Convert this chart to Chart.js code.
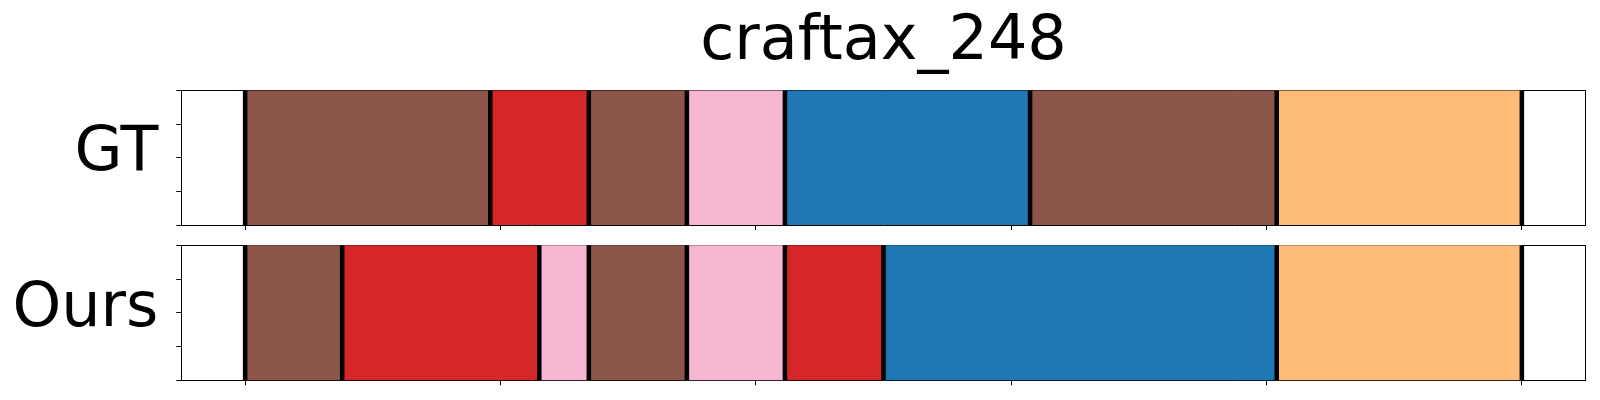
<!DOCTYPE html>
<html>
<head>
<meta charset="utf-8">
<title>craftax_248</title>
<script src="https://cdn.jsdelivr.net/npm/chart.js@4/dist/chart.umd.min.js"></script>
<style>
  html, body { margin: 0; padding: 0; background: #fff; }
  #wrap { position: relative; width: 1600px; height: 400px; }
  .panel { position: absolute; left: 0; width: 1600px; }
  #gtBox { top: 0; height: 235px; }
  #oursBox { top: 235px; height: 165px; }
</style>
</head>
<body>
<div id="wrap">
  <div class="panel" id="gtBox"><canvas id="gtChart"></canvas></div>
  <div class="panel" id="oursBox"><canvas id="oursChart"></canvas></div>
</div>
<script>
// ---- data ----
var chartTitle = "craftax_248";
var rowNames = ["GT", "Ours"];

// segment boundaries (frame index) and segment classes per row
var gtBounds   = [0, 48, 67.3, 86.5, 105.7, 153.7, 202, 250];
var gtClasses  = ["brown", "red", "brown", "pink", "blue", "brown", "orange"];

var oursBounds  = [0, 19, 57.6, 67.3, 86.5, 105.7, 125, 202, 250];
var oursClasses = ["brown", "red", "pink", "brown", "pink", "red", "blue", "orange"];

var xTickValues = [0, 50, 100, 150, 200, 250];
var yTickValues = [0, 0.25, 0.5, 0.75, 1];
var xMin = -12.5, xMax = 262.5;

// ---- styles ----
var classColor = {
  brown:  "#8c564b",
  red:    "#d62728",
  pink:   "#f7b6d2",
  blue:   "#1f77b4",
  orange: "#ffbb78"
};
var fontFamily = "'DejaVu Sans', sans-serif";
var lineHalf = 0.38; // half width of the black boundary marks, in x units

function makeRowChart(canvasId, rowName, bounds, classes, showTitle, pad, labelShift) {
  var segs = [];
  var cols = [];
  for (var i = 0; i < classes.length; i++) {
    segs.push({ x: [bounds[i], bounds[i + 1]], y: rowName });
    cols.push(classColor[classes[i]]);
  }
  var marks = bounds.map(function (b) {
    return { x: [b - lineHalf, b + lineHalf], y: rowName };
  });

  var edgeAxis = {
    type: "linear",
    offset: false,
    grid: { display: false, drawTicks: false, offset: false },
    ticks: { display: false },
    border: { display: true, color: "#000", width: 1 },
    z: 1
  };

  return new Chart(document.getElementById(canvasId), {
    type: "bar",
    data: {
      labels: [rowName],
      datasets: [
        {
          label: "boundaries",
          data: marks,
          xAxisID: "x",
          yAxisID: "y",
          backgroundColor: "#000",
          borderWidth: 0,
          grouped: false,
          order: 1,
          barPercentage: 1,
          categoryPercentage: 1
        },
        {
          label: "segments",
          data: segs,
          xAxisID: "x",
          yAxisID: "y",
          backgroundColor: cols,
          borderWidth: 0,
          grouped: false,
          order: 2,
          barPercentage: 1,
          categoryPercentage: 1
        }
      ]
    },
    options: {
      indexAxis: "y",
      responsive: true,
      maintainAspectRatio: false,
      animation: false,
      layout: { padding: pad },
      plugins: {
        legend: { display: false },
        tooltip: { enabled: false },
        title: {
          display: showTitle,
          text: chartTitle,
          fullSize: false,
          color: "#000",
          font: { family: fontFamily, size: 62, weight: "normal" },
          padding: { top: 6, bottom: 10 }
        }
      },
      scales: {
        x: {
          type: "linear",
          position: "bottom",
          min: xMin,
          max: xMax,
          afterBuildTicks: function (scale) {
            scale.ticks = xTickValues.map(function (v) { return { value: v }; });
          },
          ticks: { display: false },
          grid: { drawOnChartArea: false, tickLength: 5, color: "#000", lineWidth: 1 },
          border: { display: true, color: "#000", width: 1 },
          afterFit: function (scale) { scale.height = 5; },
          z: 1
        },
        y: {
          type: "category",
          position: "left",
          weight: 1,
          grid: { display: false, drawTicks: false },
          border: { display: false },
          ticks: {
            color: "#000",
            padding: 18,
            labelOffset: labelShift,
            font: { family: fontFamily, size: 62 }
          },
          afterFit: function (scale) {
            scale.width = 176.3;
            scale.paddingTop = 0;
            scale.paddingBottom = 0;
          }
        },
        yTicks: {
          type: "linear",
          position: "left",
          min: yTickValues[0],
          max: yTickValues[yTickValues.length - 1],
          weight: 0,
          offset: false,
          afterBuildTicks: function (scale) {
            scale.ticks = yTickValues.map(function (v) { return { value: v }; });
          },
          ticks: { display: false },
          grid: { drawOnChartArea: false, offset: false, tickLength: 5, color: "#000", lineWidth: 1 },
          border: { display: true, color: "#000", width: 1 },
          afterFit: function (scale) { scale.width = 5; },
          z: 1
        },
        xTop: Object.assign({}, edgeAxis, {
          position: "top",
          afterFit: function (scale) { scale.height = 0; }
        }),
        yRight: Object.assign({}, edgeAxis, {
          position: "right",
          afterFit: function (scale) { scale.width = 0; }
        })
      }
    }
  });
}

document.addEventListener("DOMContentLoaded", function () {
  makeRowChart("gtChart", rowNames[0], gtBounds, gtClasses, true,
    { top: 0, right: 14.3, bottom: 5, left: 0 }, -4);
  makeRowChart("oursChart", rowNames[1], oursBounds, oursClasses, false,
    { top: 10.3, right: 14.3, bottom: 14.7, left: 0 }, -3);
});
</script>
</body>
</html>
